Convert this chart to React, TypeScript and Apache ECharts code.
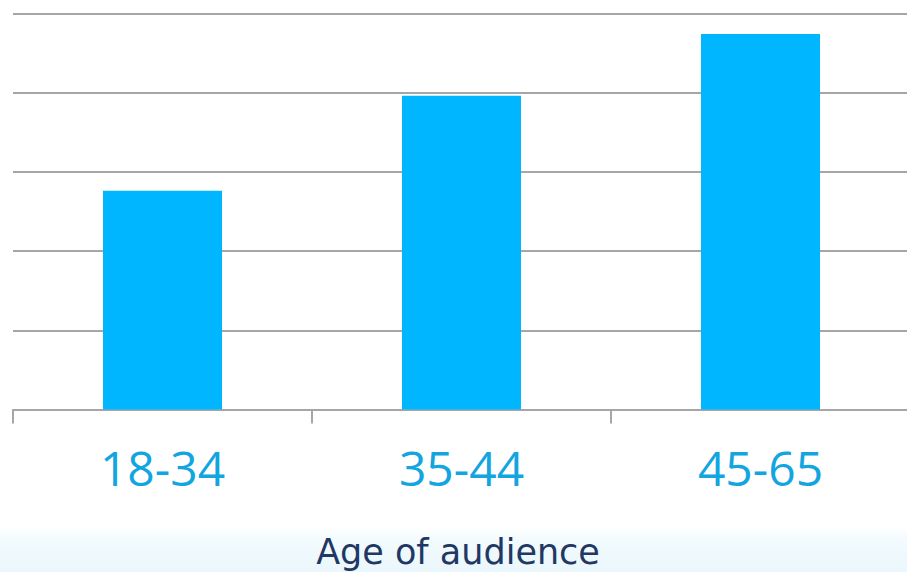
import React, { useEffect, useRef } from "react";
import * as echarts from "echarts";

const categories = ["18-34", "35-44", "45-65"];
const values = [2.76, 3.96, 4.74];
const axisTitle = "Age of audience";

export default function App() {
  const ref = useRef<HTMLDivElement>(null);
  useEffect(() => {
    if (!ref.current) return;
    const chart = echarts.init(ref.current, undefined, { renderer: "svg" });
    chart.setOption({
      animation: false,
      backgroundColor: "#ffffff",
      grid: { left: 13, top: 13.3, right: 2, height: 396.2, containLabel: false },
      xAxis: {
        type: "category",
        data: categories,
        axisLine: { lineStyle: { color: "#A6A6A6", width: 2 } },
        axisTick: { show: true, length: 14, lineStyle: { color: "#A6A6A6", width: 2 } },
        axisLabel: {
          color: "#12A5E0",
          fontSize: 48,
          fontFamily: "Open Sans",
          margin: 34,
        },
      },
      yAxis: {
        type: "value",
        min: 0,
        max: 5,
        interval: 1,
        axisLabel: { show: false },
        axisLine: { show: false },
        axisTick: { show: false },
        splitLine: { lineStyle: { color: "#A6A6A6", width: 2 } },
      },
      series: [
        {
          type: "bar",
          data: values,
          barWidth: 119,
          itemStyle: { color: "#00B6FF" },
        },
      ],
      graphic: [
        {
          type: "rect",
          z: -10,
          shape: { x: 0, y: 528, width: 912, height: 44 },
          style: {
            fill: new echarts.graphic.LinearGradient(0, 0, 0, 1, [
              { offset: 0, color: "rgba(240,250,254,0)" },
              { offset: 0.25, color: "#F3FBFE" },
              { offset: 1, color: "#EAF7FC" },
            ]),
          },
        },
        {
          type: "text",
          x: 458,
          y: 552,
          style: {
            text: axisTitle,
            fill: "#1F3864",
            fontSize: 35,
            fontFamily: "DejaVu Sans",
            textAlign: "center",
            textVerticalAlign: "middle",
          },
        },
      ],
    });
    return () => chart.dispose();
  }, []);
  return (
    <div style={{ position: "fixed", left: 0, top: 0, width: 907, height: 572, overflow: "hidden" }}>
      <div ref={ref} style={{ width: 912, height: 572 }} />
    </div>
  );
}
